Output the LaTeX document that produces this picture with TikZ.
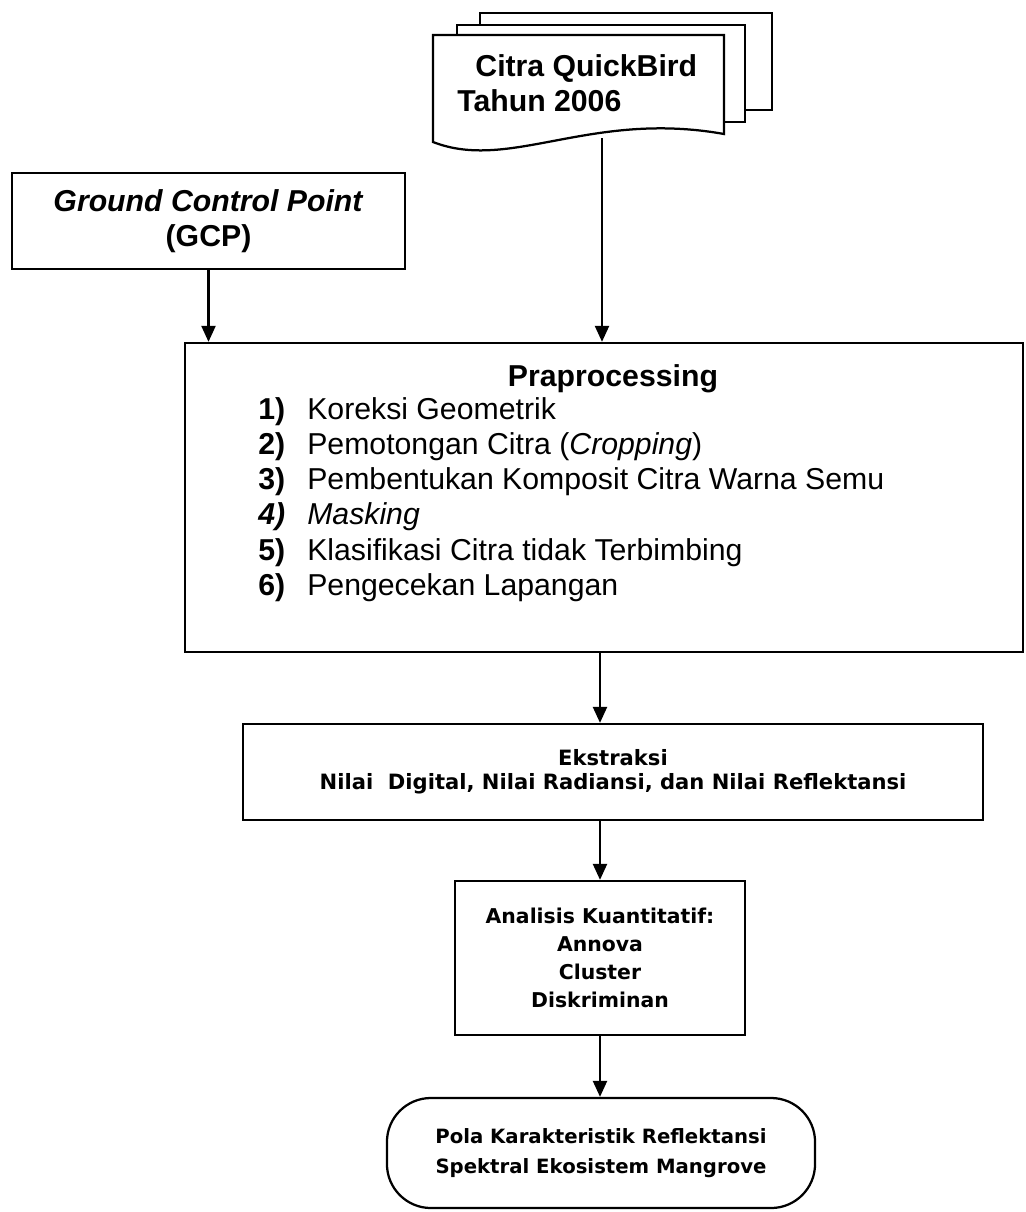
\documentclass[tikz,border=0pt]{standalone}
\usepackage{fontspec}
\setmainfont{Liberation Sans}
\newfontfamily\widefont{DejaVu Sans}
\usetikzlibrary{positioning,arrows.meta,calc}
\tikzset{
>={Triangle[width=3.5mm,length=4mm]},
base/.style = {rectangle, draw=black, line width=1.6pt, fill=white,
                         inner sep=0pt, align=center},
sheet/.style = {draw=black, line width=1.6pt, fill=white},
bigfont/.style = {font=\fontsize{21.5}{25}\selectfont},
bigbold/.style = {font=\fontsize{21.5}{25}\selectfont\bfseries},
flow/.style = {->, line width=1.6pt},
}
\newcommand{\praitem}[2]{\makebox[1.225cm][l]{\textbf{#1}}#2}

\begin{document}
\begin{tikzpicture}[x=0.025cm, y=-0.025cm]
    \useasboundingbox (0,0) rectangle (1026,1212);

    \draw[sheet] (480,13) rectangle (772,110);
    \draw[sheet] (457,25) rectangle (745,122);
    \draw[sheet] (433,35) -- (724,35) -- (724,134) .. controls (590,110) and (510,172) .. (433,142) -- cycle;
    \node[bigbold, anchor=west, align=left, inner sep=0pt] (citra) at(457, 83)  {\hspace{0.6em}Citra QuickBird\\Tahun 2006};
    \coordinate (citrabot) at(602, 138);

    \node[base, bigbold, minimum width=9.825cm, minimum height=2.4cm] (gcp) at(208.5, 221)  {\textit{Ground Control Point}\\(GCP)};

    \node[base, minimum width=20.95cm, minimum height=7.725cm] (prapro) at(604, 497.5)  {};
    \node[bigbold, inner sep=0pt] (praprotitle) at(613, 379)  {Praprocessing};
    \node[bigfont, anchor=west, align=left, inner sep=0pt] (praprolist) at(258, 499.5)  {\praitem{1)}{Koreksi Geometrik}\\
        \praitem{2)}{Pemotongan Citra (\textit{Cropping})}\\
        \praitem{3)}{Pembentukan Komposit Citra Warna Semu}\\
        \praitem{\textit{4)}}{\textit{Masking}}\\
        \praitem{5)}{Klasifikasi Citra tidak Terbimbing}\\
        \praitem{6)}{Pengecekan Lapangan}};

    \node[base, font=\widefont\bfseries\fontsize{15}{17}\selectfont, minimum width=18.5cm, minimum height=2.4cm] (ekstraksi) at(613, 772)  {Ekstraksi\\Nilai\ \ Digital, Nilai Radiansi, dan Nilai Reflektansi};

    \node[base, font=\widefont\bfseries\fontsize{14.5}{20}\selectfont, minimum width=7.25cm, minimum height=3.85cm] (analisis) at(600, 958)  {Analisis Kuantitatif:\\Annova\\Cluster\\Diskriminan};

    \node[base, rounded corners=1.1cm, font=\widefont\bfseries\fontsize{14}{21}\selectfont, minimum width=10.7cm, minimum height=2.75cm] (pola) at(601, 1153)  {Pola Karakteristik Reflektansi\\Spektral Ekosistem Mangrove};

    \draw[flow] (citrabot)  -- (citrabot |- prapro.north) ;
    \draw[flow] (gcp.south)  -- (gcp.south |- prapro.north) ;
    \draw[flow] (prapro.south -| analisis)  -- (ekstraksi.north -| analisis) ;
    \draw[flow] (ekstraksi.south -| analisis)  -- (analisis.north) ;
    \draw[flow] (analisis.south)  -- (pola.north -| analisis) ;
\end{tikzpicture}
\end{document}
